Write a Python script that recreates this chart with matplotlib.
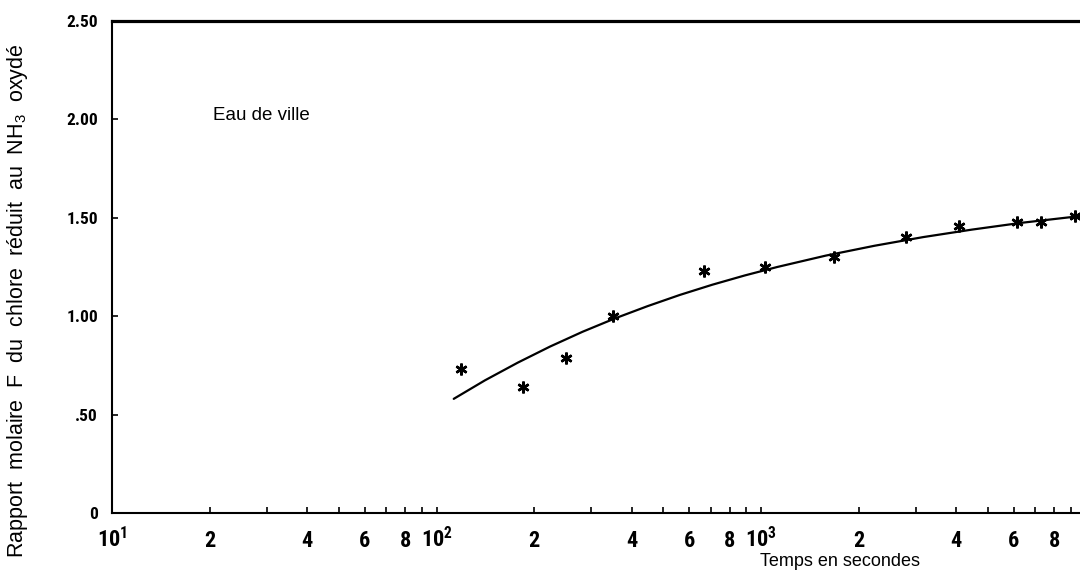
import matplotlib
matplotlib.use("Agg")
import matplotlib.pyplot as plt
from matplotlib import ticker
from matplotlib import font_manager as fm

# Measured points: time (s) and molar ratio F
temps_mesures = [119, 185, 251, 350, 667, 1030, 1680, 2800, 4070, 6150, 7300, 9290]
rapport_mesures = [0.73, 0.64, 0.79, 1.00, 1.23, 1.25, 1.30, 1.40, 1.46, 1.48, 1.48, 1.51]

# Fitted trend curve
temps_courbe = [113, 141, 178, 224, 282, 355, 447, 562, 708, 891, 1122,
                1585, 2239, 3162, 4467, 6310, 7943, 9772]
rapport_courbe = [0.580, 0.674, 0.764, 0.846, 0.921, 0.989, 1.051, 1.108,
                  1.160, 1.207, 1.250, 1.308, 1.358, 1.402, 1.440, 1.474,
                  1.493, 1.510]

# Axis ticks and labels
y_ticks = [0, 0.5, 1.0, 1.5, 2.0, 2.5]
y_tick_labels = ["0", ".50", "1.00", "1.50", "2.00", "2.50"]
x_major = [10, 100, 1000]
x_major_labels = [r"10$^{\mathrm{1}}$", r"10$^{\mathrm{2}}$", r"10$^{\mathrm{3}}$"]
x_mantissas = [2, 3, 4, 5, 6, 7, 8, 9]
x_labelled_mantissas = [2, 4, 6, 8]
x_decades = [10, 100, 1000]


def pick_narrow_font():
    """Return (family, stretch) of a condensed sans face if one is installed."""
    fonts = fm.fontManager.ttflist
    names = {f.name for f in fonts}
    for name in ["Liberation Sans Narrow", "Roboto Condensed",
                 "Open Sans Condensed", "Noto Sans Condensed",
                 "DejaVu Sans Condensed"]:
        if name in names:
            return name, "normal"
    for f in fonts:
        st = str(f.stretch)
        if st in ("condensed", "semi-condensed", "extra-condensed") and \
                f.name in ("DejaVu Sans", "Noto Sans", "Open Sans", "Roboto"):
            return f.name, st
    return "DejaVu Sans", "normal"


NARROW, NARROW_STRETCH = pick_narrow_font()
narrow_is_real = not (NARROW == "DejaVu Sans" and NARROW_STRETCH == "normal")
tick_fs_x = 16 if narrow_is_real else 12.5
tick_fs_y = 12.5 if narrow_is_real else 10

pattern = NARROW + ":bold"
if NARROW_STRETCH != "normal":
    pattern += ":" + NARROW_STRETCH
plt.rcParams["mathtext.fontset"] = "custom"
plt.rcParams["mathtext.rm"] = pattern
plt.rcParams["mathtext.it"] = pattern
plt.rcParams["mathtext.bf"] = pattern
plt.rcParams["mathtext.sf"] = "Liberation Sans"

fig = plt.figure(figsize=(10.8, 5.72), dpi=100)
fig.patch.set_facecolor("white")
ax = fig.add_axes([112 / 1080, 59 / 572, 973.5 / 1080, 492 / 572])

ax.set_xscale("log")
ax.set_xlim(10, 1e4)
ax.set_ylim(0, 2.5)

# Trend curve and measurements
ax.plot(temps_courbe, rapport_courbe, color="black", lw=1.6,
        solid_capstyle="round", solid_joinstyle="round", zorder=2)
ax.plot(temps_mesures, rapport_mesures, linestyle="none", marker=(6, 2, 0),
        markersize=8.5, markeredgewidth=1.8, color="black", zorder=3)

# Spines
ax.spines["right"].set_visible(False)
ax.spines["top"].set_linewidth(2.3)
ax.spines["left"].set_linewidth(1.5)
ax.spines["bottom"].set_linewidth(1.5)

# Y axis
ax.set_yticks(y_ticks)
ax.set_yticklabels(y_tick_labels)
ax.tick_params(axis="y", which="major", direction="in", length=4, width=1.2,
               pad=10, right=False)

# X axis: decades plus labelled intermediate values
ax.xaxis.set_major_locator(ticker.FixedLocator(x_major))
ax.xaxis.set_major_formatter(ticker.FixedFormatter(x_major_labels))
minor_pos = [m * d for d in x_decades for m in x_mantissas]
minor_lab = [str(m) if m in x_labelled_mantissas else ""
             for d in x_decades for m in x_mantissas]
ax.xaxis.set_minor_locator(ticker.FixedLocator(minor_pos))
ax.xaxis.set_minor_formatter(ticker.FixedFormatter(minor_lab))
ax.tick_params(axis="x", which="both", direction="in", length=4, width=1.2,
               top=False)
ax.tick_params(axis="x", which="major", pad=10)
ax.tick_params(axis="x", which="minor", pad=12)

for lab in ax.xaxis.get_majorticklabels() + ax.xaxis.get_minorticklabels():
    lab.set_family(NARROW)
    lab.set_stretch(NARROW_STRETCH)
    lab.set_weight("bold")
    lab.set_fontsize(tick_fs_x)
for lab in ax.yaxis.get_majorticklabels():
    lab.set_family(NARROW)
    lab.set_stretch(NARROW_STRETCH)
    lab.set_weight("bold")
    lab.set_fontsize(tick_fs_y)

# Titles and annotations
fig.text(840 / 1080, 1 - 562 / 572, "Temps en secondes", ha="center",
         va="center", fontsize=13, family="Liberation Sans")
fig.text(18 / 1080, 1 - 301 / 572,
         r"Rapport  molaire  F  du  chlore  réduit  au  NH$_{\mathsf{3}}$  oxydé",
         rotation=90, ha="center", va="center", fontsize=15.5,
         family="Liberation Sans")
fig.text(213 / 1080, 1 - 116 / 572, "Eau de ville",
         ha="left", va="center", fontsize=13.5, family="Liberation Sans")

fig.savefig("out.png", dpi=100, facecolor="white")
